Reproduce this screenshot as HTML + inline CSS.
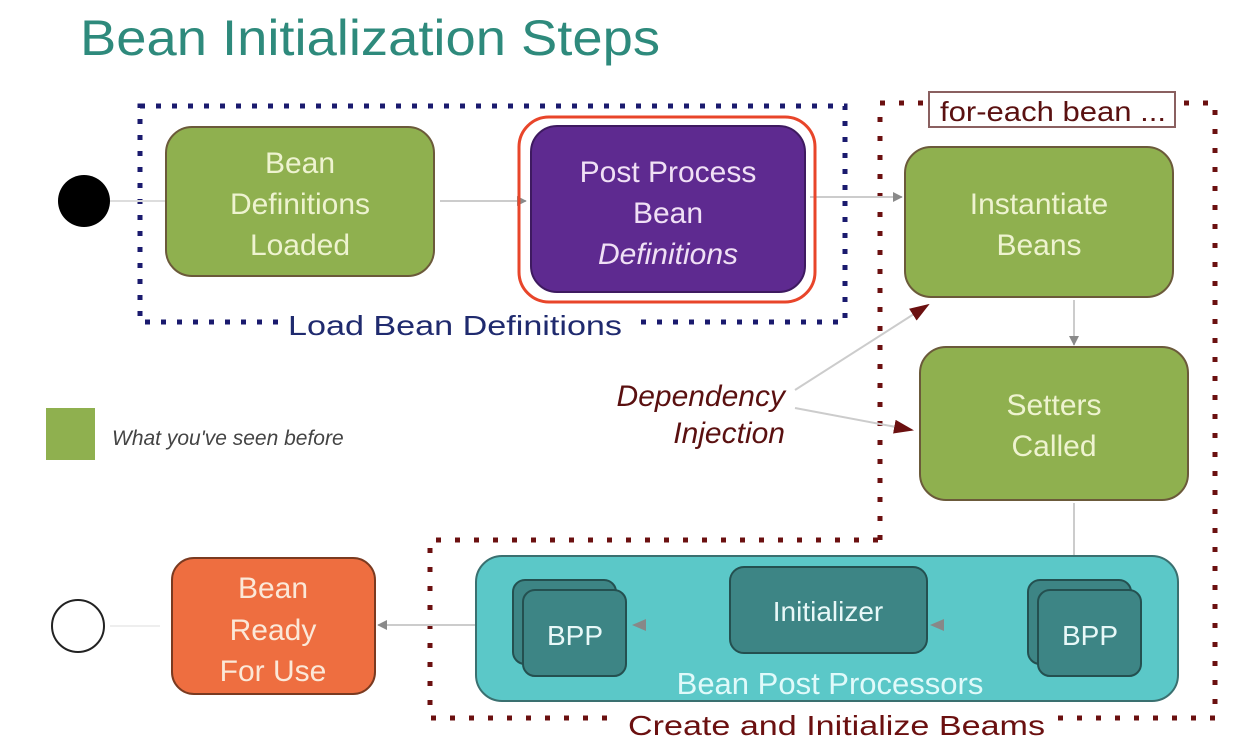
<!DOCTYPE html>
<html><head><meta charset="utf-8"><style>
html,body{margin:0;padding:0;background:#fff;width:1240px;height:754px;overflow:hidden}
svg{display:block}
text{font-family:"Liberation Sans",sans-serif}
</style></head><body>
<svg width="1240" height="754" viewBox="0 0 1240 754" xmlns="http://www.w3.org/2000/svg">
<defs>
<marker id="ag" markerWidth="10" markerHeight="10" refX="9" refY="5" orient="auto" markerUnits="userSpaceOnUse"><path d="M0,0 L14,5 L0,10 z" fill="#8a8a8a" transform="scale(0.7,1)"/></marker>
<marker id="am" markerWidth="20" markerHeight="14" refX="18" refY="7" orient="auto" markerUnits="userSpaceOnUse"><path d="M0,0 L20,7 L0,14 z" fill="#6b1010"/></marker>
</defs>
<text x="80" y="55" font-size="50" fill="#2e8a7c" textLength="580" lengthAdjust="spacingAndGlyphs">Bean Initialization Steps</text>

<!-- blue dotted -->
<rect x="140" y="106" width="705" height="216" fill="none" stroke="#1a1a6e" stroke-width="5" stroke-dasharray="5 11"/>
<rect x="280" y="308" width="350" height="36" fill="#fff"/>
<text x="288" y="335" font-size="28" fill="#1f2a6e" textLength="334" lengthAdjust="spacingAndGlyphs">Load Bean Definitions</text>

<!-- maroon dotted -->
<path d="M880,540 L880,103 L1215,103 L1215,718 L430,718 L430,540 Z" fill="none" stroke="#6b1010" stroke-width="5" stroke-dasharray="5 14"/>
<rect x="929" y="92" width="246" height="35" fill="#fff" stroke="#8a6060" stroke-width="2"/>
<text x="940" y="121" font-size="28" fill="#5a1010" textLength="226" lengthAdjust="spacingAndGlyphs">for-each bean ...</text>
<rect x="620" y="706" width="430" height="40" fill="#fff"/>
<text x="628" y="735" font-size="28" fill="#6b1010" textLength="417" lengthAdjust="spacingAndGlyphs">Create and Initialize Beams</text>

<!-- connectors -->
<line x1="110" y1="201" x2="166" y2="201" stroke="#ddd" stroke-width="2"/>
<line x1="440" y1="201" x2="526" y2="201" stroke="#ccc" stroke-width="2" marker-end="url(#ag)"/>
<line x1="810" y1="197" x2="902" y2="197" stroke="#ccc" stroke-width="2" marker-end="url(#ag)"/>
<line x1="1074" y1="300" x2="1074" y2="345" stroke="#ccc" stroke-width="2" marker-end="url(#ag)"/>
<line x1="1074" y1="503" x2="1074" y2="568" stroke="#ccc" stroke-width="2" marker-end="url(#ag)"/>
<line x1="795" y1="390" x2="928" y2="305" stroke="#ccc" stroke-width="2" marker-end="url(#am)"/>
<line x1="795" y1="408" x2="912" y2="430" stroke="#ccc" stroke-width="2" marker-end="url(#am)"/>
<line x1="476" y1="625" x2="378" y2="625" stroke="#ccc" stroke-width="2" marker-end="url(#ag)"/>
<line x1="110" y1="626" x2="160" y2="626" stroke="#eee" stroke-width="2"/>

<circle cx="84" cy="201" r="26" fill="#000"/>
<circle cx="78" cy="626" r="26" fill="#fff" stroke="#222" stroke-width="2"/>

<!-- green 1 -->
<rect x="166" y="127" width="268" height="149" rx="26" fill="#8fb04f" stroke="#6b5a3a" stroke-width="2"/>
<g font-size="30" fill="#eef3d0" text-anchor="middle">
<text x="300" y="173">Bean</text><text x="300" y="214">Definitions</text><text x="300" y="255">Loaded</text>
</g>
<!-- purple -->
<rect x="519" y="117" width="296" height="185" rx="30" fill="none" stroke="#e8452a" stroke-width="3"/>
<rect x="531" y="126" width="274" height="166" rx="26" fill="#5e2a90" stroke="#3e1a60" stroke-width="2"/>
<g font-size="30" fill="#f0e0f5" text-anchor="middle">
<text x="668" y="182">Post Process</text><text x="668" y="223">Bean</text><text x="668" y="264" font-style="italic">Definitions</text>
</g>
<!-- instantiate -->
<rect x="905" y="147" width="268" height="150" rx="26" fill="#8fb04f" stroke="#6b5a3a" stroke-width="2"/>
<g font-size="30" fill="#eef3d0" text-anchor="middle">
<text x="1039" y="214">Instantiate</text><text x="1039" y="255">Beans</text>
</g>
<!-- setters -->
<rect x="920" y="347" width="268" height="153" rx="26" fill="#8fb04f" stroke="#6b5a3a" stroke-width="2"/>
<g font-size="30" fill="#eef3d0" text-anchor="middle">
<text x="1054" y="415">Setters</text><text x="1054" y="456">Called</text>
</g>
<!-- DI text -->
<g font-size="30" fill="#5a1010" font-style="italic" text-anchor="end">
<text x="785" y="406">Dependency</text><text x="785" y="443">Injection</text>
</g>
<!-- legend -->
<rect x="46" y="408" width="49" height="52" fill="#8fb04f"/>
<text x="112" y="445" font-size="21" fill="#444" font-style="italic" font-family="DejaVu Sans, sans-serif">What you've seen before</text>

<!-- teal container -->
<rect x="476" y="556" width="702" height="145" rx="26" fill="#5bc8c8" stroke="#3a7070" stroke-width="2"/>
<text x="830" y="694" font-size="31" fill="#e0fafa" text-anchor="middle">Bean Post Processors</text>
<rect x="513" y="580" width="103" height="84" rx="12" fill="#3d8585" stroke="#245050" stroke-width="2"/>
<rect x="523" y="590" width="103" height="86" rx="12" fill="#3d8585" stroke="#245050" stroke-width="2"/>
<text x="575" y="645" font-size="28" fill="#e8f8f8" text-anchor="middle">BPP</text>
<rect x="730" y="567" width="197" height="86" rx="14" fill="#3d8585" stroke="#245050" stroke-width="2"/>
<text x="828" y="621" font-size="28" fill="#e8f8f8" text-anchor="middle">Initializer</text>
<rect x="1028" y="580" width="103" height="84" rx="12" fill="#3d8585" stroke="#245050" stroke-width="2"/>
<rect x="1038" y="590" width="103" height="86" rx="12" fill="#3d8585" stroke="#245050" stroke-width="2"/>
<text x="1090" y="645" font-size="28" fill="#e8f8f8" text-anchor="middle">BPP</text>
<path d="M930,625 L944,619 L944,631 z" fill="#888"/>
<path d="M632,625 L646,619 L646,631 z" fill="#888"/>

<!-- bean ready -->
<rect x="172" y="558" width="203" height="136" rx="22" fill="#ee6e40" stroke="#7a3a20" stroke-width="2"/>
<g font-size="30" fill="#fbe8d8" text-anchor="middle">
<text x="273" y="598">Bean</text><text x="273" y="640">Ready</text><text x="273" y="681">For Use</text>
</g>
</svg>
</body></html>
